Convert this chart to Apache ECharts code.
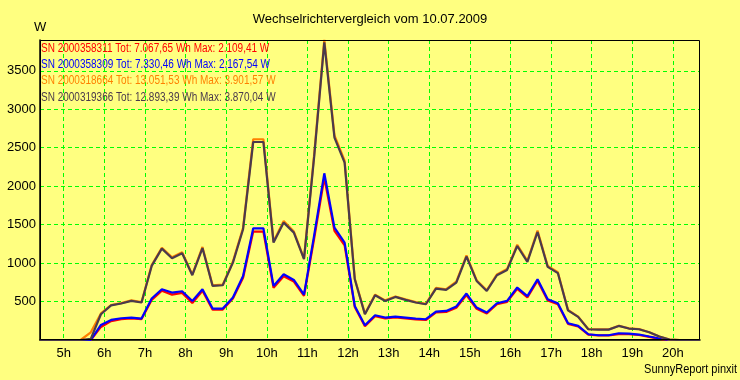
<!DOCTYPE html>
<html><head><meta charset="utf-8">
<script src="https://cdn.jsdelivr.net/npm/echarts@6/dist/echarts.min.js"></script>
<style>html,body{margin:0;padding:0;background:#ffff80}#c{width:740px;height:380px}</style>
</head><body><div id="c"></div>
<script>
// sample times (every 15 min)
const times = ["04:25","04:40","04:55","05:10","05:25","05:40","05:55","06:10","06:25","06:40","06:55",
"07:10","07:25","07:40","07:55","08:10","08:25","08:40","08:55","09:10","09:25","09:40","09:55",
"10:10","10:25","10:40","10:55","11:10","11:25","11:40","11:55","12:10","12:25","12:40","12:55",
"13:10","13:25","13:40","13:55","14:10","14:25","14:40","14:55","15:10","15:25","15:40","15:55",
"16:10","16:25","16:40","16:55","17:10","17:25","17:40","17:55","18:10","18:25","18:40","18:55",
"19:10","19:25","19:40","19:55","20:10","20:25","20:40"];

// series values in W
const sn358311 = [0,0,0,0,0,0,170,245,270,280,272,520,640,590,612,480,640,395,395,540,810,1410,1410,680,830,760,575,1320,2109,1420,1230,430,180,310,280,295,282,268,260,358,365,420,585,405,345,465,495,665,555,770,515,465,210,178,70,60,60,75,75,65,40,15,0,0,0,0];
const sn358309 = [0,0,0,0,0,0,196,261,283,292,279,539,660,617,634,508,660,409,409,552,833,1452,1452,703,855,781,590,1360,2167,1461,1266,443,192,322,292,305,292,279,270,370,378,435,604,422,357,478,508,682,570,790,530,478,218,183,75,62,62,88,84,71,45,20,0,0,0,0];
const sn318664 = [0,0,0,0,0,100,345,455,480,515,492,975,1200,1075,1140,850,1210,710,720,1020,1460,2610,2610,1280,1548,1410,1060,2410,3901,2660,2330,800,340,590,515,565,528,492,470,678,660,758,1100,778,645,852,922,1238,1028,1422,962,880,390,304,142,137,137,186,151,142,101,46,5,0,0,0];
const sn319366 = [0,0,0,0,0,15,335,450,474,508,487,963,1188,1062,1127,842,1195,703,712,1006,1440,2574,2574,1266,1526,1396,1050,2380,3870,2630,2305,790,335,582,508,560,521,487,465,669,651,747,1085,768,638,842,911,1222,1015,1404,950,870,385,300,140,135,135,183,149,140,100,45,5,0,0,0];

const serials = ["2000358311","2000358309","2000318664","2000319366"];
const totals = ["7.067,65","7.330,46","13.051,53","12.893,39"];
const maxima = ["2.109,41","2.167,54","3.901,57","3.870,04"];
const xTicks = [5,6,7,8,9,10,11,12,13,14,15,16,17,18,19,20];
const yTicks = [500,1000,1500,2000,2500,3000,3500];

const colors = ["#ff0000","#0000ff","#ff8000","#4a3a4c"];
const values = [sn358311, sn358309, sn318664, sn319366];
const toH = t => { const p = t.split(":"); return +p[0] + (+p[1])/60; };
const names = serials.map((s,i)=>"SN " + s + " Tot: " + totals[i] + " Wh Max: " + maxima[i] + " W");

const reg = "'Liberation Sans',Arial,sans-serif";
const legendY = [48.5, 64.8, 81, 97.3];

const chart = echarts.init(document.getElementById('c'), null, {renderer:'canvas'});
const gfx = [
  {type: 'rect', shape: {x: 40.5, y: 40.5, width: 659, height: 299}, z: 100, silent: true,
    style: {fill: null, stroke: '#000', lineWidth: 1}},
  {type: 'text', left: 34, top: 21, z: 100, style: {text: 'W', font: '13px ' + reg, fill: '#000'}},
  {type: 'text', x: 737, y: 370, scaleX: 0.88, z: 100,
    style: {text: 'SunnyReport pinxit', font: '12.5px ' + reg, fill: '#000', align: 'right', verticalAlign: 'middle'}}
];
names.forEach((n,i)=>gfx.push({type: 'text', x: 41, y: legendY[i], scaleX: 0.8, z: 100, silent: true,
  style: {text: n, font: '12.5px ' + reg, fill: colors[i], align: 'left', verticalAlign: 'middle'}}));

chart.setOption({
  backgroundColor: '#ffff80',
  animation: false,
  title: {text: 'Wechselrichtervergleich vom 10.07.2009', left: 'center', top: 13, padding: 0,
    textStyle: {fontFamily: reg, fontSize: 13, fontWeight: 'normal', color: '#000'}},
  grid: {left: 40, right: 40, top: 40, bottom: 40, show: false},
  xAxis: {
    type: 'value', min: toH(times[0]), max: toH(times[times.length-1]),
    minInterval: 1, maxInterval: 1, splitNumber: 16,
    axisLine: {show: true, lineStyle: {color: '#000', width: 1.5}},
    axisTick: {show: false},
    axisLabel: {margin: 7, color: '#000', fontFamily: reg, fontSize: 13,
      formatter: v => xTicks.indexOf(Math.round(v*1000)/1000) >= 0 ? v + 'h' : ''},
    splitLine: {show: true, showMinLine: false, showMaxLine: false,
      lineStyle: {color: '#00ff00', type: [4,3], width: 1}}
  },
  yAxis: {
    type: 'value', min: 0, max: 3900, interval: 500,
    axisLine: {show: true, lineStyle: {color: '#000', width: 1.5}},
    axisTick: {show: false},
    axisLabel: {margin: 4, color: '#000', fontFamily: reg, fontSize: 13,
      formatter: v => yTicks.indexOf(v) >= 0 ? String(v) : ''},
    splitLine: {show: true, showMinLine: false, showMaxLine: false,
      lineStyle: {color: '#00ff00', type: [4,3], width: 1}}
  },
  graphic: gfx,
  series: values.map((arr,i)=>({
    name: names[i], type: 'line', symbol: 'none', z: 3 + i,
    lineStyle: {color: colors[i], width: 2.2}, itemStyle: {color: colors[i]},
    data: arr.map((v,k)=>[toH(times[k]), v])
  }))
});
</script></body></html>
